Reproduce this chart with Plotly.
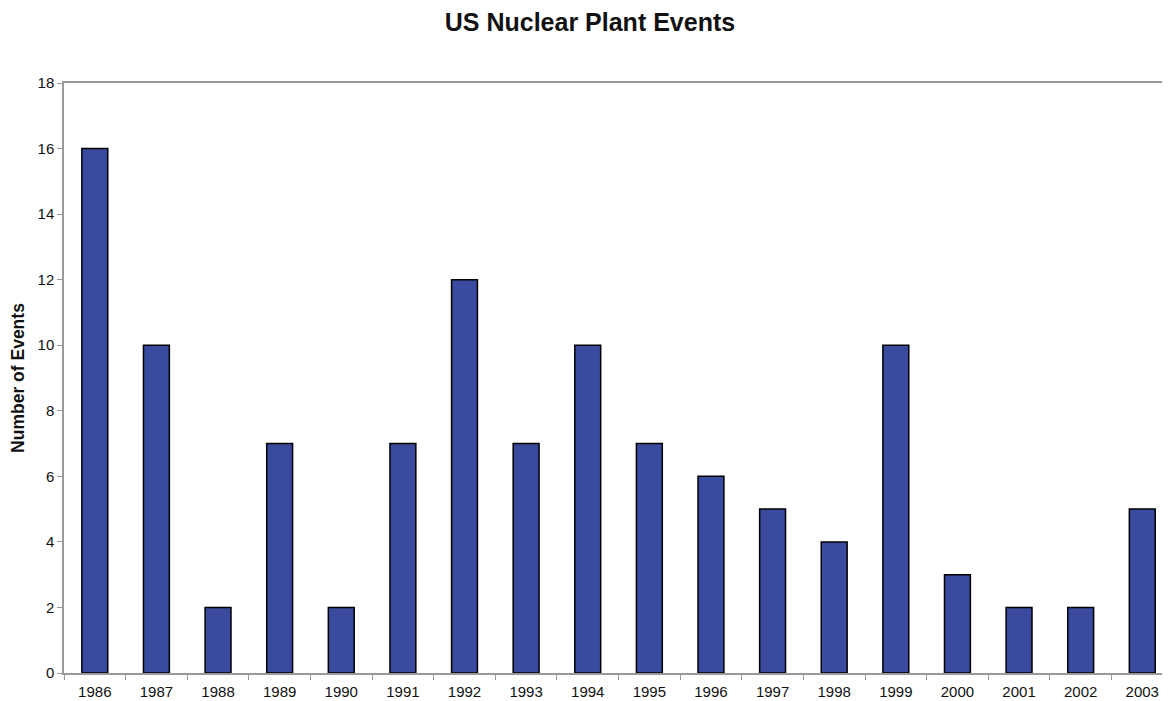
import plotly.graph_objects as go

years = ["1986", "1987", "1988", "1989", "1990", "1991", "1992", "1993", "1994",
         "1995", "1996", "1997", "1998", "1999", "2000", "2001", "2002", "2003"]
events = [16, 10, 2, 7, 2, 7, 12, 7, 10, 7, 6, 5, 4, 10, 3, 2, 2, 5]
y_ticks = [0, 2, 4, 6, 8, 10, 12, 14, 16, 18]

fig = go.Figure(go.Bar(
    x=years, y=events,
    marker=dict(color="#3A4A9E", line=dict(color="#000000", width=1.5)),
    width=0.42,
))

fig.update_layout(
    width=1154, height=693,
    paper_bgcolor="white", plot_bgcolor="white",
    margin=dict(l=56, r=0, t=75, b=28),
    font=dict(family="Liberation Sans, Arial, sans-serif", color="#111111"),
    title=dict(text="<b>US Nuclear Plant Events</b>", x=0.5043, xanchor="center",
               y=1 - 14 / 693, yanchor="middle", font=dict(size=25, color="#111111")),
    showlegend=False,
)
fig.update_xaxes(
    type="category", range=[-0.5, 17.32],
    showline=True, linecolor="#999999", linewidth=1.5, mirror=True,
    ticks="outside", tickson="boundaries", ticklen=5, tickcolor="#999999",
    tickfont=dict(size=15), showgrid=False, ticklabelstandoff=4, automargin=False,
)
fig.update_yaxes(
    range=[0, 18], tickvals=y_ticks,
    showline=True, linecolor="#999999", linewidth=1.5,
    ticks="outside", ticklen=5, tickcolor="#999999",
    tickfont=dict(size=15), showgrid=False, zeroline=False,
    title=dict(text="<b>Number of Events</b>", font=dict(size=17.5), standoff=12),
)

fig.write_html("out.html")
